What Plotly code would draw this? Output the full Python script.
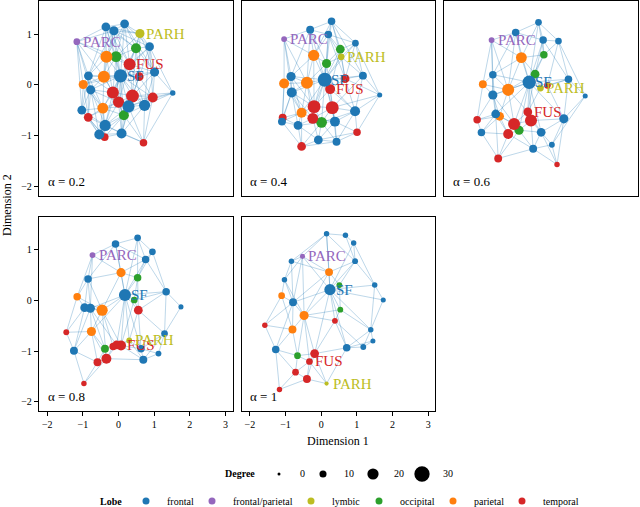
import plotly.graph_objects as go
from plotly.subplots import make_subplots

# lobe colours
lobe_codes = ['F', 'X', 'L', 'O', 'P', 'T']
lobe_names = {'F': 'frontal', 'X': 'frontal/parietal', 'L': 'lymbic',
              'O': 'occipital', 'P': 'parietal', 'T': 'temporal'}
lobe_colors = {'F': '#1f77b4', 'X': '#9467bd', 'L': '#bcbd22',
               'O': '#2ca02c', 'P': '#ff7f0e', 'T': '#d62728'}
draw_order = ['O', 'P', 'T', 'F', 'L', 'X']

alphas = ['0.2', '0.4', '0.6', '0.8', '1']
degree_breaks = [0, 10, 20, 30]

# ---- panel 1 (alpha = 0.2)
p1_lobe = "FFFFFFFFFFFFFFFXLOOOPPPPTTTTTTTTT"
p1_x = [-0.355, 0.17, -0.13, 0.87, -0.845, 0.056, 1.01, -0.78, 1.52, -1.03, 0.28, 0.73, -0.375, -0.54, 0.085,
        -1.17, 0.60, 0.49, -0.07, 0.15, -0.34, -0.41, -0.99, -0.44, 0.31, -0.16, 0.39, 0.0, 0.96, -0.85, -0.39, 0.70, 0.58]
p1_y = [1.14, 1.20, 1.065, 0.75, 0.176, 0.176, 0.25, -0.10, -0.16, -0.50, -0.425, -0.405, -0.80, -0.98, -0.96,
        0.85, 1.01, 0.72, 0.555, -0.60, 0.55, 0.16, 0.006, -0.46, 0.405, -0.15, -0.22, -0.34, -0.25, -0.64, -1.03, -1.14, 0.16]
p1_deg = [14, 14, 15, 14, 14, 25, 15, 15, 6, 14, 22, 20, 20, 17, 17,
          9, 15, 17, 19, 17, 22, 22, 15, 19, 22, 22, 24, 20, 17, 14, 12, 11, 14]
p1_labels = {'SF': 5, 'FUS': 24, 'PARC': 15, 'PARH': 16}
p1_edges = {
    0: [1, 2, 3, 4, 5, 15, 16, 17, 18, 20, 21, 24], 1: [2, 3, 5, 16, 17, 18, 20, 24, 6],
    2: [5, 15, 16, 17, 18, 20, 21, 24, 4], 3: [5, 6, 8, 16, 17, 24, 28, 32, 11],
    4: [5, 7, 9, 15, 20, 21, 22, 23, 25, 29],
    5: [6, 7, 10, 11, 12, 17, 18, 19, 20, 21, 22, 23, 24, 25, 26, 27, 28, 32, 14],
    6: [8, 11, 17, 24, 26, 28, 32], 7: [9, 12, 15, 21, 22, 23, 25, 27, 29, 13], 8: [11, 26, 28, 31, 10],
    9: [12, 13, 15, 22, 23, 29, 30], 10: [11, 12, 14, 19, 23, 25, 26, 27, 28, 31, 32],
    11: [14, 19, 26, 28, 31, 24], 12: [13, 14, 19, 23, 25, 27, 29, 30, 31], 13: [14, 19, 29, 30, 23],
    14: [19, 27, 30, 31, 26], 15: [18, 20, 21, 22], 16: [17, 24, 32, 18, 6], 17: [18, 24, 32, 26],
    18: [20, 21, 24, 25, 27], 19: [23, 25, 26, 27, 30, 31], 20: [21, 24, 25], 21: [22, 23, 25, 27],
    22: [23, 29], 23: [25, 27, 29, 30], 24: [25, 26, 27, 32], 25: [26, 27], 26: [27, 28, 32],
    27: [28, 29], 28: [31, 32], 29: [30]}

# ---- panel 2 (alpha = 0.4)
p2_lobe = "FFFFFFFFFFFFFFFXLOOOPPPPTTTTTTTT"
p2_x = [0.29, -0.31, 0.20, 0.96, -0.845, 0.10, 1.17, -0.825, 1.64, -1.10, 0.95, -0.65, 0.385, -0.08, 0.43,
        -1.04, 0.56, 0.535, 0.15, 0.01, -0.21, -1.04, -0.40, -0.55, 0.25, 0.67, -0.20, 0.31, -0.235, -1.08, 1.005, -0.55]
p2_y = [1.25, 1.085, 0.99, 0.82, 0.163, 0.10, 0.18, -0.15, -0.20, -0.725, -0.52, -0.80, -0.725, -1.085, -1.12,
        0.90, 0.55, 0.70, 0.42, -0.74, 0.58, 0.025, 0.04, -0.55, -0.085, 0.12, -0.43, -0.45, -0.66, -0.65, -0.935, -1.215]
p2_deg = [11, 12, 11, 9, 15, 27, 12, 17, 5, 12, 17, 14, 17, 14, 12,
          7, 9, 14, 15, 19, 20, 17, 22, 17, 17, 14, 24, 24, 19, 12, 11, 14]
p2_labels = {'SF': 5, 'FUS': 24, 'PARC': 15, 'PARH': 16}
p2_edges = {
    0: [1, 2, 3, 17, 16, 5, 20, 6], 1: [2, 15, 20, 4, 5, 18, 22], 2: [3, 5, 16, 17, 18, 20, 25],
    3: [6, 16, 17, 25, 8, 5], 4: [5, 7, 15, 21, 22, 20, 23, 26],
    5: [6, 7, 10, 12, 16, 17, 18, 19, 20, 22, 24, 25, 26, 27, 28, 23], 6: [8, 10, 25, 27, 16],
    7: [9, 11, 15, 21, 22, 23, 26, 28, 29], 8: [10, 30, 25, 27], 9: [11, 21, 23, 29, 31],
    10: [12, 14, 24, 25, 27, 30, 19], 11: [13, 23, 28, 29, 31, 19], 12: [13, 14, 19, 24, 27, 28, 30],
    13: [14, 19, 28, 31, 30], 14: [19, 27, 30, 31], 15: [20, 21, 22], 16: [17, 18, 25], 17: [18, 25, 24],
    18: [20, 22, 24, 26], 19: [26, 27, 28, 31], 20: [22, 26], 21: [22, 23, 29], 22: [23, 26, 28],
    23: [26, 28, 29, 31], 24: [25, 26, 27], 26: [27, 28], 27: [28]}

# ---- panel 3 (alpha = 0.6)
p3_lobe = "FFFFFFFFFFFFFFFXLOOOPPPPTTTTTTTT"
p3_x = [0.41, -0.23, 0.54, 0.97, -0.87, 0.15, 1.25, -0.87, 1.72, -0.79, 1.12, -1.19, 0.485, 0.785, 0.26,
        -0.905, 0.465, 0.56, 0.315, -0.135, -0.07, -1.15, -0.44, -0.68, 0.11, 0.66, -0.275, 0.20, -0.44, -1.31, -0.72, 0.93]
p3_y = [1.23, 1.03, 0.88, 0.86, 0.20, 0.05, 0.11, -0.20, -0.22, -0.575, -0.67, -0.94, -0.935, -1.18, -1.26,
        0.88, -0.065, 0.59, 0.21, -0.895, 0.535, 0.01, -0.10, -0.62, -0.535, -0.01, -0.77, -0.705, -0.97, -0.69, -1.45, -1.57]
p3_deg = [9, 11, 11, 9, 11, 25, 11, 15, 5, 14, 15, 11, 14, 7, 12,
          7, 9, 11, 14, 15, 19, 12, 22, 14, 14, 9, 22, 22, 17, 11, 12, 6]
p3_labels = {'SF': 5, 'FUS': 24, 'PARC': 15, 'PARH': 16}
p3_edges = {
    0: [1, 2, 3, 5, 17, 20], 1: [2, 15, 20, 5, 4, 22], 2: [3, 17, 5, 18, 6], 3: [6, 17, 25, 8],
    4: [7, 15, 21, 22, 20, 5, 9], 5: [6, 7, 10, 12, 16, 17, 18, 19, 20, 22, 24, 25, 26, 27, 9],
    6: [8, 10, 25, 16], 7: [9, 21, 22, 23, 15, 26, 29], 8: [10, 13], 9: [11, 23, 26, 28, 29, 30],
    10: [12, 13, 27, 25, 31], 11: [29, 30, 28, 23], 12: [13, 14, 24, 27, 31, 19], 13: [14, 31],
    14: [19, 27, 28, 30, 31], 15: [20, 21, 22], 16: [18, 24, 25], 17: [18, 20], 18: [20, 22, 24],
    19: [26, 27, 28, 30], 20: [22], 21: [22, 29], 22: [23, 26, 24], 23: [26, 28, 29], 24: [26, 27],
    26: [27, 28], 28: [30]}

# ---- panel 4 (alpha = 0.8)
p4_lobe = "FFFFFFFFFFFFFFFXLOOOPPPPTTTTTTTT"
p4_x = [0.535, -0.085, 0.95, 0.76, -0.855, 0.18, 1.335, -0.95, 1.75, -0.79, 1.29, -1.25, 0.63, 1.12, 0.695,
        -0.73, 0.30, 0.535, 0.44, -0.38, 0.07, -1.16, -0.46, -0.76, 0.07, 0.555, -0.055, -0.15, -0.34, -1.465, -0.59, -0.97]
p4_y = [1.23, 1.11, 0.955, 0.805, 0.42, 0.105, 0.17, -0.145, -0.13, -0.157, -0.655, -0.995, -0.955, -1.05, -1.17,
        0.89, -0.79, 0.445, 0.006, -0.955, 0.545, 0.07, -0.195, -0.615, -0.89, -0.195, -0.88, -0.91, -1.15, -0.63, -1.22, -1.64]
p4_deg = [9, 11, 9, 11, 11, 22, 11, 14, 5, 15, 9, 12, 11, 7, 12,
          7, 7, 11, 9, 12, 15, 11, 20, 15, 17, 14, 14, 11, 17, 7, 12, 6]
p4_labels = {'SF': 5, 'FUS': 24, 'PARC': 15, 'PARH': 16}
p4_edges = {
    0: [1, 2, 3, 5, 17], 1: [15, 3, 20, 5, 4], 2: [3, 6, 17], 3: [5, 6, 17, 20], 4: [15, 7, 9, 20, 21, 22],
    5: [6, 9, 12, 17, 18, 20, 22, 24, 25, 26, 16, 23], 6: [8, 10, 25, 18], 7: [9, 21, 11, 29, 22], 8: [10],
    9: [22, 23, 11, 15, 19, 26], 10: [12, 13, 14, 25], 11: [23, 29, 31, 30], 12: [13, 14, 16, 24, 25],
    13: [14], 14: [16, 24, 28], 15: [20, 21], 16: [24, 25, 26], 17: [18, 25, 20], 18: [25, 24],
    19: [23, 26, 28, 30], 20: [22], 21: [22, 29], 22: [23, 24, 27, 28], 23: [29, 30, 28], 24: [26, 27],
    26: [27, 28], 27: [28], 28: [30, 31], 30: [31]}

# ---- panel 5 (alpha = 1)
p5_lobe = "FFFFFFFFFFFFFFFXLOOOPPPPTTTTTTT"
p5_x = [0.15, 0.68, 0.91, -0.835, 0.95, -1.03, 0.245, 1.50, 1.74, -0.79, 1.39, 1.45, 1.18, 0.715, -1.275,
        -0.525, 0.15, 0.51, 0.535, -0.665, 0.22, -1.11, -0.48, -0.805, 0.385, -1.58, -0.185, -0.33, -0.72, -0.40, -1.17]
p5_y = [1.31, 1.28, 1.13, 0.77, 0.77, 0.405, 0.21, 0.30, 0.006, -0.04, -0.58, -0.80, -0.92, -0.935, -0.97,
        0.865, -1.64, 0.30, -0.185, -1.09, 0.555, 0.09, -0.30, -0.575, -0.405, -0.49, -1.05, -1.205, -1.415, -1.55, -1.755]
p5_deg = [6, 6, 6, 6, 7, 6, 20, 6, 5, 12, 6, 5, 7, 11, 11,
          5, 3, 7, 7, 9, 12, 9, 15, 12, 7, 6, 14, 9, 9, 12, 6]
p5_labels = {'SF': 6, 'FUS': 27, 'PARC': 15, 'PARH': 16}
p5_edges = {
    0: [1, 3, 15, 4, 6, 20], 1: [2, 4], 2: [4, 7, 6], 3: [5, 15, 9, 20], 4: [7, 6, 17, 20], 5: [9, 21, 15, 22],
    6: [7, 8, 9, 17, 18, 20, 22, 24, 26, 13, 15, 10], 7: [8, 10], 8: [10], 9: [21, 22, 23, 15, 25, 14],
    10: [11, 12, 13, 18], 11: [12, 13], 12: [13, 24], 13: [24, 26, 16], 14: [23, 25, 19, 30, 28],
    15: [20, 22], 16: [26, 29, 27], 17: [20, 18], 18: [24, 22], 19: [22, 23, 27, 28, 26], 20: [22, 9],
    21: [25, 23], 22: [23, 24, 26, 27], 23: [25, 19], 24: [26], 26: [27, 29], 27: [28, 29], 28: [29, 30],
    29: [30]}

panels = [
    (p1_lobe, p1_x, p1_y, p1_deg, p1_labels, p1_edges),
    (p2_lobe, p2_x, p2_y, p2_deg, p2_labels, p2_edges),
    (p3_lobe, p3_x, p3_y, p3_deg, p3_labels, p3_edges),
    (p4_lobe, p4_x, p4_y, p4_deg, p4_labels, p4_edges),
    (p5_lobe, p5_x, p5_y, p5_deg, p5_labels, p5_edges),
]
cells = [(1, 1), (1, 2), (1, 3), (2, 1), (2, 2)]


def size_of(d):
    return 3 + 0.41 * d  # point diameter in px


# plot area: l=39 r=2 t=1 b=96 on a 640x507 page
def px_x(px):
    return (px - 39) / 599


def px_y(py):
    return (411 - py) / 410


SERIF = "Liberation Serif"
fig = make_subplots(rows=2, cols=3, specs=[[{}, {}, {}], [{}, {}, None]],
                    horizontal_spacing=9 / 599, vertical_spacing=21 / 410)

for k, (lobe, xs, ys, deg, labels, edges) in enumerate(panels):
    r, c = cells[k]
    ex, ey = [], []
    seen = set()
    for a, nbrs in edges.items():
        for b in nbrs:
            key = (min(a, b), max(a, b))
            if key in seen or a == b:
                continue
            seen.add(key)
            ex += [xs[a], xs[b], None]
            ey += [ys[a], ys[b], None]
    fig.add_trace(go.Scatter(x=ex, y=ey, mode='lines', hoverinfo='skip', showlegend=False,
                             line=dict(color='rgba(31,119,180,0.33)', width=0.9)), row=r, col=c)
    for code in draw_order:
        idx = [i for i, l in enumerate(lobe) if l == code]
        fig.add_trace(go.Scatter(x=[xs[i] for i in idx], y=[ys[i] for i in idx], mode='markers',
                                 showlegend=False, name=lobe_names[code],
                                 marker=dict(color=lobe_colors[code], size=[size_of(deg[i]) for i in idx],
                                             line=dict(width=0), opacity=1)),
                      row=r, col=c)
    n = k + 1
    xref = 'x' if n == 1 else f'x{n}'
    yref = 'y' if n == 1 else f'y{n}'
    for name, i in labels.items():
        fig.add_annotation(x=xs[i], y=ys[i], xref=xref, yref=yref, text=name, showarrow=False,
                           xanchor='left', yanchor='middle', xshift=4,
                           font=dict(family=SERIF, size=15, color=lobe_colors[lobe[i]]))
    fig.add_annotation(x=0.035, y=0.025, xref=f'{xref} domain', yref=f'{yref} domain',
                       text=f'α = {alphas[k]}', showarrow=False, xanchor='left', yanchor='bottom',
                       font=dict(family=SERIF, size=13, color='black'))

    show_x = (r == 2)
    show_y = (c == 1)
    fig.update_xaxes(range=[-2.23, 3.2], tickvals=[-2, -1, 0, 1, 2, 3], showgrid=False, zeroline=False,
                     showline=True, mirror=True, linecolor='black', linewidth=1.4,
                     ticks='outside' if show_x else '', ticklen=4, tickcolor='black',
                     showticklabels=show_x, tickfont=dict(family=SERIF, size=10, color='black'),
                     row=r, col=c)
    fig.update_yaxes(range=[-2.18, 1.65], tickvals=[-2, -1, 0, 1], showgrid=False, zeroline=False,
                     showline=True, mirror=True, linecolor='black', linewidth=1.4,
                     ticks='outside' if show_y else '', ticklen=4, tickcolor='black',
                     showticklabels=show_y, tickfont=dict(family=SERIF, size=10, color='black'),
                     row=r, col=c)

# axis titles
fig.add_annotation(x=px_x(338), y=px_y(441), xref='paper', yref='paper', text='Dimension 1',
                   showarrow=False, xanchor='center', yanchor='middle',
                   font=dict(family=SERIF, size=12, color='black'))
fig.add_annotation(x=px_x(7), y=px_y(205), xref='paper', yref='paper', text='Dimension 2', textangle=-90,
                   showarrow=False, xanchor='center', yanchor='middle',
                   font=dict(family=SERIF, size=12, color='black'))

# legends (drawn as keys + labels below the panels)
deg_key_x = [279, 323, 373, 422]
lobe_key_x = [146, 212, 311, 379, 453, 522]
deg_row_y, lobe_row_y = 474, 501

fig.add_annotation(x=px_x(240), y=px_y(deg_row_y), xref='paper', yref='paper', text='<b>Degree</b>',
                   showarrow=False, xanchor='center', yanchor='middle',
                   font=dict(family=SERIF, size=10, color='black'))
for d, kx in zip(degree_breaks, deg_key_x):
    rad = size_of(d) / 2
    fig.add_shape(type='circle', xref='paper', yref='paper', xsizemode='pixel', ysizemode='pixel',
                  xanchor=px_x(kx), yanchor=px_y(deg_row_y), x0=-rad, x1=rad, y0=-rad, y1=rad,
                  fillcolor='black', line=dict(width=0))
    fig.add_annotation(x=px_x(kx + 19), y=px_y(deg_row_y), xref='paper', yref='paper', text=str(d),
                       showarrow=False, xanchor='left', yanchor='middle',
                       font=dict(family=SERIF, size=10, color='black'))

fig.add_annotation(x=px_x(111), y=px_y(lobe_row_y), xref='paper', yref='paper', text='<b>Lobe</b>',
                   showarrow=False, xanchor='center', yanchor='middle',
                   font=dict(family=SERIF, size=10, color='black'))
for code, kx in zip(lobe_codes, lobe_key_x):
    rad = 3.5
    fig.add_shape(type='circle', xref='paper', yref='paper', xsizemode='pixel', ysizemode='pixel',
                  xanchor=px_x(kx), yanchor=px_y(lobe_row_y), x0=-rad, x1=rad, y0=-rad, y1=rad,
                  fillcolor=lobe_colors[code], line=dict(width=0))
    fig.add_annotation(x=px_x(kx + 19), y=px_y(lobe_row_y), xref='paper', yref='paper',
                       text=lobe_names[code], showarrow=False, xanchor='left', yanchor='middle',
                       font=dict(family=SERIF, size=10, color='black'))

fig.update_layout(
    width=640, height=507,
    margin=dict(l=39, r=2, t=1, b=96, autoexpand=False),
    paper_bgcolor='white', plot_bgcolor='white',
    font=dict(family=SERIF, size=10, color='black'),
    showlegend=False,
)

fig.write_html("out.html", config={'displayModeBar': False},
               post_script="document.body.style.margin='0px';")
